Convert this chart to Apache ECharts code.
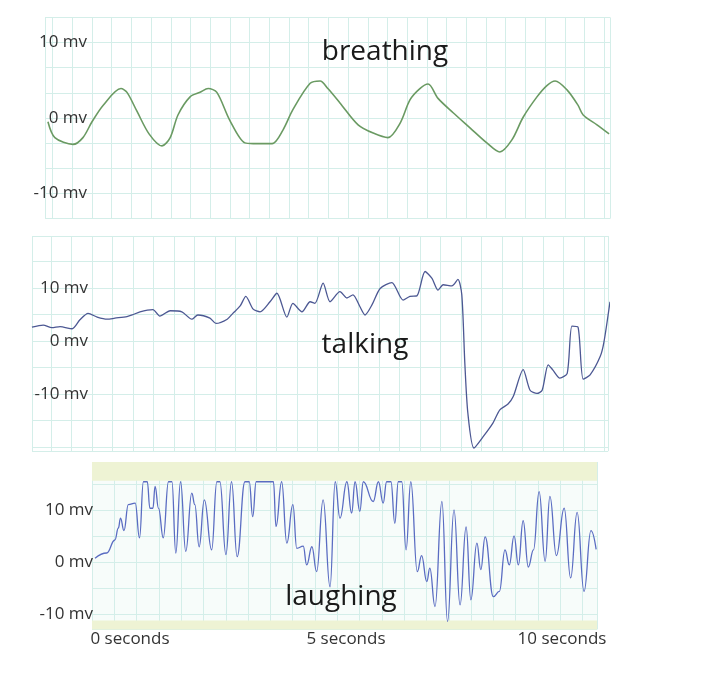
<!DOCTYPE html>
<html>
<head>
<meta charset="utf-8">
<script src="https://cdn.jsdelivr.net/npm/echarts@6/dist/echarts.min.js"></script>
<style>
html,body{margin:0;padding:0;background:#fff;}
#chart{width:720px;height:673px;}
</style>
</head>
<body>
<div id="chart"></div>
<script>
// ---- data (time in seconds, signal in mV) ----
const breathT = [-1.02,-0.86,-0.44,-0.21,0,0.26,0.67,0.81,1.04,1.32,1.62,1.81,1.99,2.27,2.5,2.69,2.89,3.19,3.54,3.73,4.17,4.42,4.65,5.05,5.28,5.46,5.74,6.16,6.51,6.85,7.13,7.36,7.59,7.78,8.01,8.36,8.75,9.14,9.44,9.72,9.98,10.3,10.53,10.72,11.0,11.25,11.37,11.69,11.97];
const breathV = [-0.5,-2.6,-3.5,-2.6,-0.5,1.7,3.9,3.4,0.9,-2.1,-3.7,-2.6,0.4,2.8,3.4,3.9,3.4,-0.3,-3.3,-3.4,-3.4,-1.6,1.1,4.6,4.9,3.9,2.0,-0.9,-2.0,-2.6,-0.7,2.4,3.9,4.5,2.6,0.7,-1.3,-3.3,-4.5,-2.9,0.1,2.8,4.3,4.9,3.7,1.7,0.4,-0.9,-2.1];

const talkT = [-1.39,-1.13,-0.93,-0.74,-0.46,-0.28,-0.09,0.12,0.35,0.53,0.81,0.93,1.11,1.41,1.57,1.81,2.08,2.31,2.45,2.73,2.87,3.13,3.26,3.43,3.56,3.73,3.89,4.12,4.28,4.51,4.65,4.86,5.05,5.16,5.35,5.51,5.74,5.90,6.04,6.20,6.32,6.48,6.67,6.94,7.20,7.36,7.52,7.71,7.87,8.01,8.13,8.33,8.47,8.56,8.63,8.70,8.84,9.05,9.28,9.44,9.63,9.75,9.98,10.14,10.30,10.42,10.56,10.67,10.83,11.0,11.11,11.25,11.37,11.53,11.76,11.85,11.99];
const talkV = [2.6,3.0,2.5,2.7,2.3,4.0,5.2,4.5,4.1,4.3,4.6,4.9,5.5,5.9,4.7,5.7,5.5,4.1,4.9,4.3,3.3,4.1,5.2,6.6,8.4,6.0,5.5,7.4,9.0,4.5,7.1,5.5,7.4,7.1,10.9,7.4,9.3,8.1,8.7,6.5,4.9,6.8,9.9,11.0,7.7,8.4,8.5,13.1,11.8,9.6,10.6,10.4,11.6,8.7,-4.2,-13.6,-20.2,-18.1,-15.5,-13.0,-11.9,-10.5,-5.4,-9.3,-9.9,-9.3,-4.5,-5.5,-7.0,-6.1,2.8,2.6,-7.2,-6.4,-3.0,-0.2,7.4];

const laughT = [0.07,0.34,0.53,0.61,0.66,0.74,0.84,1.0,1.1,1.19,1.28,1.34,1.41,1.46,1.54,1.65,1.77,1.85,1.94,2.05,2.17,2.31,2.38,2.48,2.6,2.77,2.89,2.96,3.1,3.23,3.36,3.54,3.64,3.72,3.8,4.2,4.26,4.39,4.51,4.65,4.74,4.89,4.97,5.09,5.2,5.35,5.51,5.63,5.74,5.9,6.01,6.09,6.2,6.28,6.51,6.63,6.74,6.82,6.92,7.01,7.09,7.17,7.27,7.38,7.53,7.63,7.75,7.82,7.94,8.1,8.23,8.38,8.52,8.66,8.77,8.91,9.0,9.1,9.29,9.43,9.56,9.66,9.77,9.87,9.98,10.1,10.22,10.35,10.49,10.6,10.75,10.93,11.08,11.23,11.39,11.55,11.67];
const laughV = [0.7,1.7,4.2,6.5,8.4,6.0,11.0,11.3,4.6,15.4,15.4,10.3,10.3,14.5,10.3,4.6,15.4,15.4,1.7,15.4,2.0,13.2,11.0,2.9,11.9,2.3,15.4,15.4,1.4,15.4,1.0,15.4,15.4,8.7,15.4,15.4,6.8,15.4,3.6,11.0,2.6,3.0,-0.6,2.9,-1.9,11.9,-4.8,15.4,8.4,15.4,9.4,15.4,9.7,15.4,11.6,15.4,11.3,15.4,15.4,7.4,15.4,15.4,2.3,15.4,-1.9,1.2,-3.8,-1.2,-8.6,11.6,-11.5,10.0,-8.3,6.7,-7.3,3.6,-1.5,4.8,-6.7,-5.7,2.3,-0.6,5.0,-0.6,7.9,-1.0,2.3,13.5,0.1,12.6,1.2,10.3,-3.1,9.5,-5.7,6.0,2.4];

// saturation bands of the laughing recorder (mV)
const laughBandTop = [15.6, 19.2];
const laughBandBottom = [-13, -11.3];

const panelTitles = ['breathing', 'talking', 'laughing'];
const mvLabels = [10, 0, -10];
const timeLabels = [0, 5, 10];

// ---- styling ----
const gridColor = '#d4eee9';
const font = '"Open Sans", "Liberation Sans", sans-serif';

function pairs(t, v) { return t.map((x, i) => [x, v[i]]); }

function xAx(gi, min, max, sq) {
  return {
    type: 'value', gridIndex: gi, min: min, max: max,
    minInterval: sq, maxInterval: sq,
    axisLine: {show: false}, axisTick: {show: false}, axisLabel: {show: false},
    splitLine: {show: true, lineStyle: {color: gridColor, width: 1}}
  };
}
function mvFormatter(v) {
  for (const m of mvLabels) { if (Math.abs(v - m) < 0.01) return m + ' mv'; }
  return '';
}
function yAx(gi, min, max, sq, offset, fixed) {
  const ax = {
    type: 'value', gridIndex: gi, min: min, max: max, offset: offset,
    axisLine: {show: false}, axisTick: {show: false},
    axisLabel: {show: true, color: '#333', fontSize: 17, fontFamily: font, margin: 8, formatter: mvFormatter, hideOverlap: false},
    splitLine: {show: true, lineStyle: {color: gridColor, width: 1}}
  };
  if (fixed) { ax.interval = sq; } else { ax.minInterval = sq; ax.maxInterval = sq; }
  return ax;
}

const chart = echarts.init(document.getElementById('chart'), null, {renderer: 'canvas'});
const sq1 = 10 / 3;
const titleStyle = {font: '28px ' + font, fill: '#1a1a1a', textAlign: 'center', textVerticalAlign: 'middle'};
const option = {
  animation: false,
  backgroundColor: '#ffffff',
  grid: [
    {left: 45, top: 17.4, width: 565, height: 201.2},
    {left: 32, top: 236, width: 576, height: 215.2},
    {left: 92, top: 462, width: 505, height: 167.4, show: true, backgroundColor: '#f7fcfa', borderWidth: 0},
    {left: 130, top: 615, width: 432, height: 10}
  ],
  xAxis: [
    xAx(0, -1.088, 11.991, 0.456),
    xAx(1, -1.389, 11.944, 0.4745),
    xAx(2, 0, 11.69, 0.5162),
    {
      type: 'value', gridIndex: 3, min: 0, max: 10, interval: 5,
      axisLine: {show: false}, axisTick: {show: false}, splitLine: {show: false},
      axisLabel: {show: true, color: '#333', fontSize: 17, fontFamily: font, margin: 6,
        formatter: function (v) { return timeLabels.indexOf(v) >= 0 ? v + ' seconds' : ''; }}
    }
  ],
  yAxis: [
    yAx(0, -4 * sq1, 4 * sq1, sq1, -50, true),
    yAx(1, -20.8, 19.8, 5, -64, false),
    yAx(2, -13, 19.2, 5, -9, false),
    {type: 'value', gridIndex: 3, show: false}
  ],
  graphic: [
    {type: 'text', z: 100, x: 385, y: 52, style: Object.assign({text: panelTitles[0]}, titleStyle)},
    {type: 'text', z: 100, x: 365, y: 345, style: Object.assign({text: panelTitles[1]}, titleStyle)},
    {type: 'text', z: 100, x: 341, y: 597, style: Object.assign({text: panelTitles[2]}, titleStyle)}
  ],
  series: [
    {type: 'line', xAxisIndex: 0, yAxisIndex: 0, data: pairs(breathT, breathV), showSymbol: false, smooth: 0.3,
      lineStyle: {color: '#6a9a62', width: 1.6}},
    {type: 'line', xAxisIndex: 1, yAxisIndex: 1, data: pairs(talkT, talkV), showSymbol: false, smooth: 0.25,
      lineStyle: {color: '#4c5893', width: 1.3}},
    {type: 'line', xAxisIndex: 2, yAxisIndex: 2, data: pairs(laughT, laughV), showSymbol: false, smooth: 0.45, smoothMonotone: 'x',
      lineStyle: {color: '#5a6cc2', width: 1.3},
      markArea: {silent: true, itemStyle: {color: '#eef3d4'},
        data: [[{yAxis: laughBandTop[0]}, {yAxis: laughBandTop[1]}], [{yAxis: laughBandBottom[0]}, {yAxis: laughBandBottom[1]}]]}}
  ]
};
chart.setOption(option);
</script>
</body>
</html>
